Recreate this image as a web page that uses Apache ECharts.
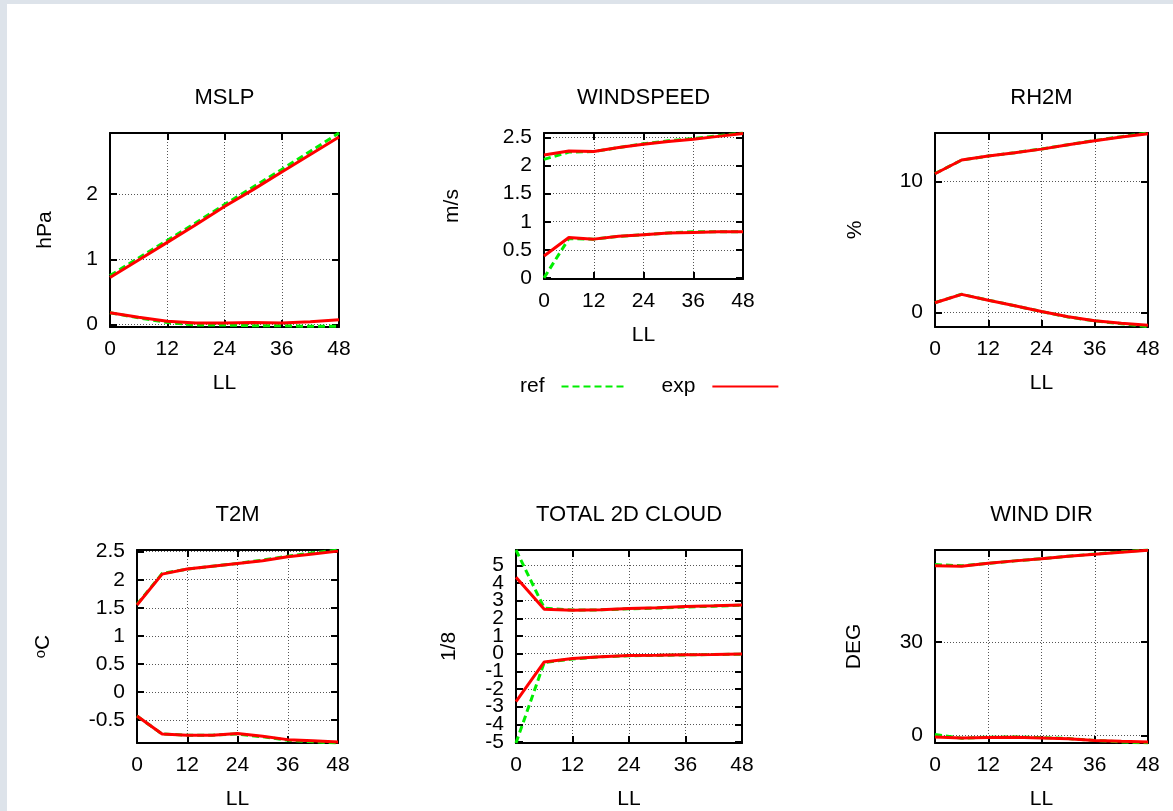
<!DOCTYPE html>
<html>
<head>
<meta charset="utf-8">
<title>ref vs exp</title>
<script src="https://cdn.jsdelivr.net/npm/echarts@6/dist/echarts.min.js"></script>
<style>
html, body { margin: 0; padding: 0; background: #fff; }
#main { width: 1173px; height: 811px; }
</style>
</head>
<body>
<div id="main"></div>
<script>
// lead times (h)
var leadTimes = [0, 6, 12, 18, 24, 30, 36, 42, 48];

var mslpRefStdv = [0.75, 1.02, 1.29, 1.56, 1.84, 2.11, 2.38, 2.66, 2.94];
var mslpExpStdv = [0.72, 0.99, 1.26, 1.53, 1.81, 2.07, 2.34, 2.61, 2.88];
var mslpRefBias = [0.18, 0.10, 0.03, -0.01, -0.01, -0.02, -0.02, -0.03, -0.03];
var mslpExpBias = [0.18, 0.11, 0.05, 0.02, 0.02, 0.03, 0.02, 0.04, 0.07];
var mslpTicks = [0, 1, 2];

var windRefStdv = [2.11, 2.24, 2.25, 2.32, 2.39, 2.44, 2.48, 2.53, 2.58];
var windExpStdv = [2.19, 2.26, 2.25, 2.32, 2.38, 2.43, 2.47, 2.52, 2.57];
var windRefBias = [0.0, 0.70, 0.69, 0.74, 0.77, 0.80, 0.82, 0.82, 0.82];
var windExpBias = [0.39, 0.72, 0.69, 0.74, 0.77, 0.80, 0.81, 0.82, 0.82];
var windTicks = [0, 0.5, 1, 1.5, 2, 2.5];

var rhRefStdv = [10.6, 11.62, 11.93, 12.19, 12.47, 12.8, 13.12, 13.41, 13.69];
var rhExpStdv = [10.58, 11.63, 11.93, 12.18, 12.46, 12.79, 13.1, 13.38, 13.63];
var rhRefBias = [0.74, 1.38, 0.93, 0.5, 0.06, -0.35, -0.66, -0.87, -1.1];
var rhExpBias = [0.73, 1.37, 0.92, 0.5, 0.07, -0.34, -0.64, -0.84, -0.99];
var rhTicks = [0, 10];

var t2mRefStdv = [1.56, 2.11, 2.19, 2.24, 2.29, 2.35, 2.42, 2.48, 2.53];
var t2mExpStdv = [1.55, 2.10, 2.19, 2.24, 2.29, 2.34, 2.41, 2.46, 2.51];
var t2mRefBias = [-0.43, -0.75, -0.77, -0.77, -0.75, -0.80, -0.86, -0.89, -0.91];
var t2mExpBias = [-0.43, -0.75, -0.77, -0.77, -0.74, -0.79, -0.85, -0.87, -0.89];
var t2mTicks = [-0.5, 0, 0.5, 1, 1.5, 2, 2.5];

var cloudRefStdv = [5.87, 2.58, 2.47, 2.48, 2.54, 2.58, 2.64, 2.69, 2.74];
var cloudExpStdv = [4.32, 2.52, 2.46, 2.49, 2.56, 2.6, 2.67, 2.71, 2.76];
var cloudRefBias = [-5.06, -0.5, -0.3, -0.18, -0.12, -0.1, -0.07, -0.05, -0.03];
var cloudExpBias = [-2.71, -0.47, -0.28, -0.17, -0.11, -0.09, -0.06, -0.05, -0.02];
var cloudTicks = [-5, -4, -3, -2, -1, 0, 1, 2, 3, 4, 5];

var dirRefStdv = [55.0, 54.6, 55.4, 56.2, 56.9, 57.7, 58.4, 59.1, 59.7];
var dirExpStdv = [54.6, 54.5, 55.4, 56.2, 56.9, 57.7, 58.3, 59.0, 59.6];
var dirRefBias = [0.3, -0.9, -0.6, -0.5, -0.7, -1.0, -1.6, -2.1, -2.44];
var dirExpBias = [-0.5, -0.8, -0.7, -0.6, -0.8, -1.1, -1.6, -1.9, -2.1];
var dirTicks = [0, 30];

var FONT = "'Liberation Sans', Arial, Helvetica, sans-serif";
var FS = 21;
var C = { ref: "#00ee00", exp: "#ff0000", frame: "#000", grid: "#555", text: "#000", edge: "#dde3ea" };

// cloud labels crowd each other: echarts drops neighbours, so split them over two label axes
var cloudOdd = cloudTicks.filter(function (v) { return v % 2 !== 0; });
var cloudEven = cloudTicks.filter(function (v) { return v % 2 === 0; });

var panels = [
  { title: "MSLP", unit: "hPa", ticks: mslpTicks, yMin: -0.04, yMax: 2.94,
    box: { left: 110, top: 133, width: 229, height: 194 }, nameGap: 54,
    ref: [mslpRefStdv, mslpRefBias], exp: [mslpExpStdv, mslpExpBias] },
  { title: "WINDSPEED", unit: "m/s", ticks: windTicks, yMin: -0.02, yMax: 2.58,
    box: { left: 544, top: 133, width: 199, height: 146 }, nameGap: 81,
    ref: [windRefStdv, windRefBias], exp: [windExpStdv, windExpBias] },
  { title: "RH2M", unit: "%", ticks: rhTicks, yMin: -1.12, yMax: 13.69,
    box: { left: 935, top: 133, width: 213, height: 194 }, nameGap: 69,
    ref: [rhRefStdv, rhRefBias], exp: [rhExpStdv, rhExpBias] },
  { title: "T2M", unit: "{o|o}C", ticks: t2mTicks, yMin: -0.91, yMax: 2.53,
    box: { left: 137, top: 550, width: 201, height: 193 }, nameGap: 83,
    ref: [t2mRefStdv, t2mRefBias], exp: [t2mExpStdv, t2mExpBias] },
  { title: "TOTAL 2D CLOUD", unit: "1/8", ticks: cloudTicks, labels: [cloudOdd, cloudEven],
    yMin: -5.06, yMax: 5.87,
    box: { left: 516, top: 550, width: 226, height: 193 }, nameGap: 56,
    ref: [cloudRefStdv, cloudRefBias], exp: [cloudExpStdv, cloudExpBias] },
  { title: "WIND DIR", unit: "DEG", ticks: dirTicks, yMin: -2.44, yMax: 59.7,
    box: { left: 935, top: 550, width: 213, height: 193 }, nameGap: 70,
    ref: [dirRefStdv, dirRefBias], exp: [dirExpStdv, dirExpBias] }
];

function pairs(vals) {
  return leadTimes.map(function (t, i) { return [t, vals[i]]; });
}

var tickStyle = { show: true, inside: true, length: 7, lineStyle: { color: C.frame, width: 2 } };
var lineAxis = { show: true, onZero: false, lineStyle: { color: C.frame, width: 2 } };
var dotted = { show: true, lineStyle: { color: C.grid, width: 1, type: [1, 2] } };

function labelStyle(values) {
  return { customValues: values, color: C.text, fontSize: FS, fontFamily: FONT, margin: 12,
    hideOverlap: false, showMinLabel: true, showMaxLabel: true };
}

var grids = [], xAxes = [], yAxes = [], series = [], graphics = [];

graphics.push({ type: "rect", shape: { x: 0, y: 0, width: 1173, height: 4 }, style: { fill: C.edge }, silent: true });
graphics.push({ type: "rect", shape: { x: 0, y: 0, width: 7, height: 811 }, style: { fill: C.edge }, silent: true });

panels.forEach(function (p, i) {
  var labelSets = p.labels || [p.ticks];
  grids.push(Object.assign({ show: false }, p.box));

  var xIndex = xAxes.length;
  xAxes.push({
    type: "value", gridIndex: i, position: "bottom", min: 0, max: 48, interval: 12,
    name: "LL", nameLocation: "middle", nameGap: 46,
    nameTextStyle: { fontSize: FS, color: C.text, fontFamily: FONT },
    axisLine: lineAxis, axisTick: tickStyle,
    axisLabel: { color: C.text, fontSize: FS, fontFamily: FONT, margin: 12 },
    splitLine: dotted
  });
  xAxes.push({
    type: "value", gridIndex: i, position: "top", min: 0, max: 48, interval: 12,
    axisLine: lineAxis, axisTick: tickStyle,
    axisLabel: { show: false }, splitLine: { show: false }
  });

  var yIndex = yAxes.length;
  yAxes.push({
    type: "value", gridIndex: i, position: "left", min: p.yMin, max: p.yMax,
    name: p.unit, nameLocation: "middle", nameGap: p.nameGap, nameRotate: 90,
    nameTextStyle: { fontSize: FS, color: C.text, fontFamily: FONT,
      rich: { o: { fontSize: 15, verticalAlign: "top", color: C.text, fontFamily: FONT } } },
    axisLine: lineAxis,
    axisTick: Object.assign({ customValues: p.ticks }, tickStyle),
    axisLabel: labelStyle(labelSets[0]),
    splitLine: dotted
  });
  labelSets.slice(1).forEach(function (vals) {
    yAxes.push({
      type: "value", gridIndex: i, position: "left", offset: 0, min: p.yMin, max: p.yMax,
      axisLine: { show: false }, axisTick: { show: false },
      axisLabel: labelStyle(vals), splitLine: { show: false }
    });
  });
  yAxes.push({
    type: "value", gridIndex: i, position: "right", min: p.yMin, max: p.yMax,
    axisLine: lineAxis,
    axisTick: Object.assign({ customValues: p.ticks }, tickStyle),
    axisLabel: { show: false }, splitLine: { show: false }
  });

  graphics.push({
    type: "text", x: p.box.left + p.box.width / 2, y: p.box.top - 35,
    style: { text: p.title, font: "22px " + FONT, fill: C.text,
      align: "center", verticalAlign: "middle", textAlign: "center", textVerticalAlign: "middle" },
    silent: true
  });

  [["ref", p.ref], ["exp", p.exp]].forEach(function (s) {
    s[1].forEach(function (vals) {
      series.push({
        name: s[0], type: "line", xAxisIndex: xIndex, yAxisIndex: yIndex,
        data: pairs(vals), symbol: "none", showSymbol: false,
        itemStyle: { color: C[s[0]] },
        lineStyle: { color: C[s[0]], width: 3, type: s[0] === "ref" ? [7, 4] : "solid" },
        z: s[0] === "ref" ? 3 : 4
      });
    });
  });
});

var chart = echarts.init(document.getElementById("main"));
chart.setOption({
  animation: false,
  backgroundColor: "#fff",
  textStyle: { fontFamily: FONT, color: C.text },
  legend: {
    data: ["ref", "exp"], left: 520, top: 376, align: "right",
    itemWidth: 66, itemHeight: 14, itemGap: 33, padding: 0,
    itemStyle: { opacity: 0 },
    textStyle: { fontSize: FS, color: C.text, fontFamily: FONT, padding: [0, 12, 0, 0] }
  },
  grid: grids,
  xAxis: xAxes,
  yAxis: yAxes,
  series: series,
  graphic: graphics
});
</script>
</body>
</html>
